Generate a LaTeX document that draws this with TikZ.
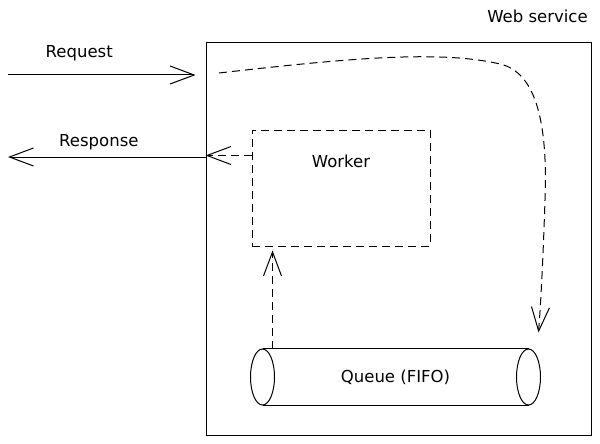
\documentclass[tikz,border=0pt]{standalone}
\usepackage{fontspec}
\setmainfont{DejaVu Sans}
\usepackage{tikz}
\usetikzlibrary{arrows.meta,positioning}

\begin{document}
\begin{tikzpicture}[x=1pt,y=-1pt,line width=1pt,
  font=\fontsize{16.5}{20}\selectfont,
  tip/.style={-{Straight Barb[length=24pt,width=18pt]}},
  dashline/.style={dash pattern=on 8pt off 5pt}]
  \useasboundingbox (0,0) rectangle (600,444);

  \node[draw, minimum width=385pt, minimum height=392pt,
    label={[anchor=south east, yshift=16pt]north east:Web service}] (service) at (398.5,239) {};
  \node[draw, dashline, minimum width=178pt, minimum height=116pt,
    label={[anchor=north, yshift=-22pt]north:Worker}] (worker) at (341,188) {};
  \node[minimum width=265pt, minimum height=56pt] (queue) at (395.5,377) {Queue (FIFO)};

  % cylinder
  \draw (queue.north west) -- (queue.north east)
        (queue.south west) -- (queue.south east);
  \draw (queue.west) ellipse [x radius=12pt, y radius=28pt];
  \draw (queue.east) ellipse [x radius=12pt, y radius=28pt];

  \coordinate (req) at (8,75);
  \coordinate (resp) at (8,157);
  \coordinate (entry) at (219,73);

  \draw[tip] (req) -- ([xshift=-10pt]req -| service.west)
    node[pos=0.38, above=10pt] {Request};
  \draw[tip] (resp -| service.west) -- (resp)
    node[pos=0.54, above=3pt] {Response};
  \draw[tip, dashline] ([yshift=-26pt]worker.north west)
    -- ([yshift=-26pt]worker.north west -| service.west);
  \draw[tip, dashline, shorten >=4pt] ([xshift=10pt]queue.north west)
    -- ([xshift=10pt]queue.north west |- worker.south);
  \draw[tip, dashline] (entry) .. controls (350,58) and (440,50) .. (500,64)
    .. controls (535,72) and (548,120) .. (545,200)
    .. controls (543,260) and (541,300) .. ([xshift=10pt, yshift=16pt]queue.north east);
\end{tikzpicture}
\end{document}
